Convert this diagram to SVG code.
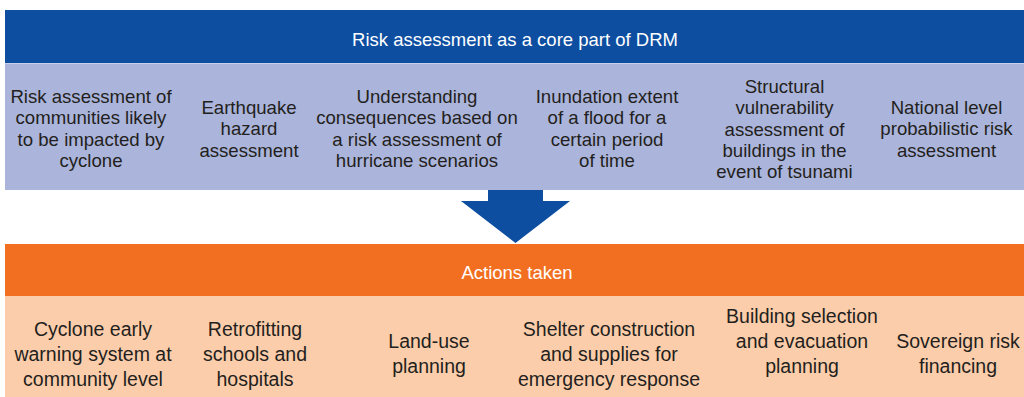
<svg xmlns="http://www.w3.org/2000/svg" width="1024" height="397" viewBox="0 0 1024 397">
<style>
.t{font-family:"Liberation Sans",Arial,sans-serif;font-size:18.6px;fill:#231f20;text-anchor:middle}
.b{font-family:"Liberation Sans",Arial,sans-serif;font-size:19.5px;fill:#231f20;text-anchor:middle}
.h{font-family:"Liberation Sans",Arial,sans-serif;font-size:18.5px;fill:#ffffff;text-anchor:middle}
</style>
<rect width="1024" height="397" fill="#ffffff"/>
<g id="risk-header">
<rect x="5" y="10" width="1019" height="53" fill="#0d4ea1"/>
<text class="h" x="515" y="46">Risk assessment as a core part of DRM</text>
</g>
<g id="risk-panel">
<rect x="5" y="63" width="1019" height="127" fill="#abb4da"/>
<line x1="5" y1="63.5" x2="1024" y2="63.5" stroke="#c9d0ea" stroke-width="1"/>
</g>
<g id="r1"><text class="t" x="91" y="103">Risk assessment of<tspan x="91" dy="21.3">communities likely</tspan><tspan x="91" dy="21.3">to be impacted by</tspan><tspan x="91" dy="21.3">cyclone</tspan></text></g>
<g id="r2"><text class="t" x="249" y="114">Earthquake<tspan x="249" dy="21.3">hazard</tspan><tspan x="249" dy="21.3">assessment</tspan></text></g>
<g id="r3"><text class="t" x="417" y="103">Understanding<tspan x="417" dy="21.3">consequences based on</tspan><tspan x="417" dy="21.3">a risk assessment of</tspan><tspan x="417" dy="21.3">hurricane scenarios</tspan></text></g>
<g id="r4"><text class="t" x="607" y="103">Inundation extent<tspan x="607" dy="21.3">of a flood for a</tspan><tspan x="607" dy="21.3">certain period</tspan><tspan x="607" dy="21.3">of time</tspan></text></g>
<g id="r5"><text class="t" x="784.5" y="93">Structural<tspan x="784.5" dy="21.3">vulnerability</tspan><tspan x="784.5" dy="21.3">assessment of</tspan><tspan x="784.5" dy="21.3">buildings in the</tspan><tspan x="784.5" dy="21.3">event of tsunami</tspan></text></g>
<g id="r6"><text class="t" x="946.5" y="114">National level<tspan x="946.5" dy="21.3">probabilistic risk</tspan><tspan x="946.5" dy="21.3">assessment</tspan></text></g>
<g id="connectors">
<polygon points="488,190 543,190 543,201 570,201 515.5,243 461,201 488,201" fill="#0d4ea1"/>
</g>
<g id="actions-header">
<rect x="5" y="244" width="1019" height="52" fill="#f26f22"/>
<text class="h" x="517" y="279">Actions taken</text>
</g>
<g id="actions-panel">
<rect x="5" y="296" width="1019" height="101" fill="#fccdaa"/>
</g>
<g id="a1"><text class="b" x="93" y="336">Cyclone early<tspan x="93" dy="25">warning system at</tspan><tspan x="93" dy="25">community level</tspan></text></g>
<g id="a2"><text class="b" x="255" y="336">Retrofitting<tspan x="255" dy="25">schools and</tspan><tspan x="255" dy="25">hospitals</tspan></text></g>
<g id="a3"><text class="b" x="429" y="348">Land-use<tspan x="429" dy="25">planning</tspan></text></g>
<g id="a4"><text class="b" x="609" y="336">Shelter construction<tspan x="609" dy="25">and supplies for</tspan><tspan x="609" dy="25">emergency response</tspan></text></g>
<g id="a5"><text class="b" x="802" y="323">Building selection<tspan x="802" dy="25">and evacuation</tspan><tspan x="802" dy="25">planning</tspan></text></g>
<g id="a6"><text class="b" x="958" y="348">Sovereign risk<tspan x="958" dy="25">financing</tspan></text></g>
</svg>
